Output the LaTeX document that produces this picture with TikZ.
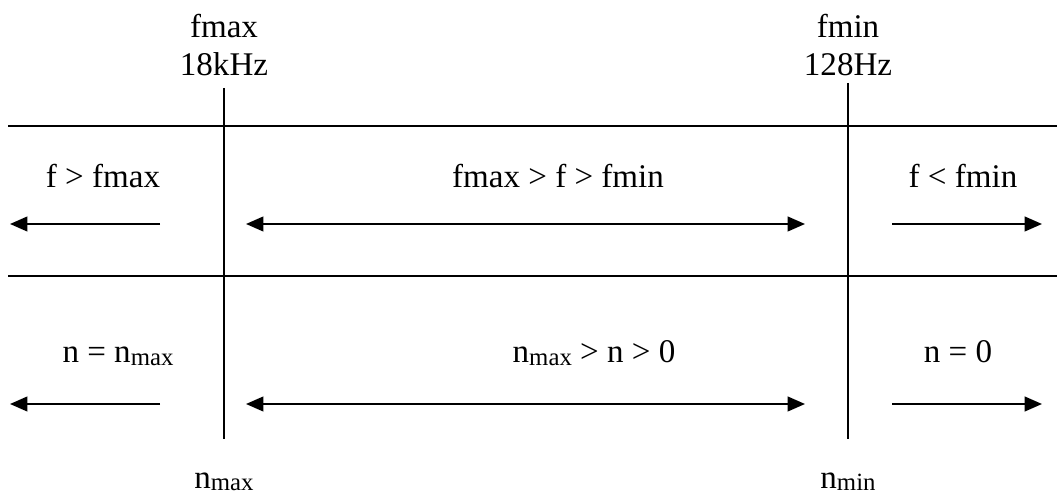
\documentclass[tikz,border=0pt]{standalone}
\usepackage{fontspec}
\setmainfont{Liberation Serif}
\usetikzlibrary{arrows.meta}

\newcommand{\lowidx}[1]{\raisebox{-0.8pt}{\fontsize{9.3}{9.3}\selectfont #1}}

\begin{document}
\begin{tikzpicture}[
  x=0.375pt, y=-0.375pt,
  >={Triangle[length=6.5pt, width=5.5pt]},
  every node/.style={font=\fontsize{12.4}{14.6}\selectfont, align=center, inner sep=0pt},
  rule/.style={line width=0.75pt},
  arrow/.style={line width=0.75pt, ->},
  twoway/.style={line width=0.75pt, <->}
]
\useasboundingbox (0,0) rectangle (1057,493);

% limits
\node (fmaxlbl) at (224,45) {fmax\\18kHz};
\node (fminlbl) at (848,45) {fmin\\128Hz};
\node (nmaxlbl) [anchor=base] at (224,488) {n\lowidx{max}};
\node (nminlbl) [anchor=base] at (848,488) {n\lowidx{min}};

\coordinate (vmaxtop) at (224,88);
\coordinate (vmaxbot) at (224,439);
\coordinate (vmintop) at (848,83);
\coordinate (vminbot) at (848,439);
\coordinate (htopl) at (8,126);
\coordinate (htopr) at (1057,126);
\coordinate (hmidl) at (8,276);
\coordinate (hmidr) at (1057,276);

\draw[rule] (vmaxtop) -- (vmaxbot);
\draw[rule] (vmintop) -- (vminbot);
\draw[rule] (htopl) -- (htopr);
\draw[rule] (hmidl) -- (hmidr);

% frequency row
\node (fhigh) [anchor=base] at (103,188) {f > fmax};
\node (fband) [anchor=base] at (558,188) {fmax > f > fmin};
\node (flow) [anchor=base] at (963,188) {f < fmin};

\coordinate (fa1) at (160,224);
\coordinate (fa2) at (10,224);
\coordinate (fb1) at (246,224);
\coordinate (fb2) at (805,224);
\coordinate (fc1) at (892,224);
\coordinate (fc2) at (1042,224);

\draw[arrow] (fa1) -- (fa2);
\draw[twoway] (fb1) -- (fb2);
\draw[arrow] (fc1) -- (fc2);

% index row
\node (nhigh) [anchor=base] at (118,363) {n = n\lowidx{max}};
\node (nband) [anchor=base] at (594,363) {n\lowidx{max} > n > 0};
\node (nlow) [anchor=base] at (958,363) {n = 0};

\coordinate (na1) at (160,404);
\coordinate (na2) at (10,404);
\coordinate (nb1) at (246,404);
\coordinate (nb2) at (805,404);
\coordinate (nc1) at (892,404);
\coordinate (nc2) at (1042,404);

\draw[arrow] (na1) -- (na2);
\draw[twoway] (nb1) -- (nb2);
\draw[arrow] (nc1) -- (nc2);
\end{tikzpicture}
\end{document}
